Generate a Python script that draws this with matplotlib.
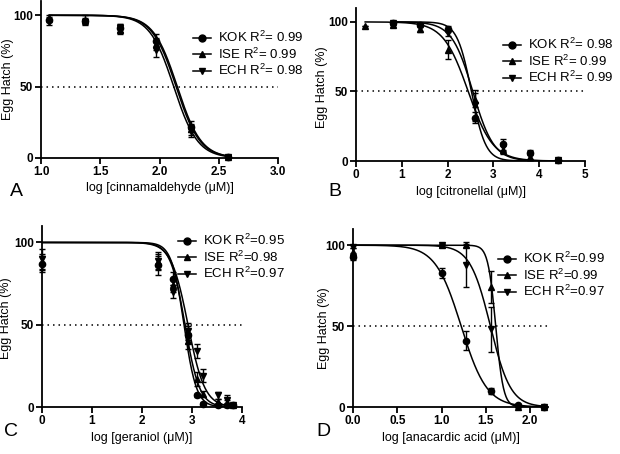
import numpy as np
import matplotlib
matplotlib.use("Agg")
import matplotlib.pyplot as plt
from matplotlib.lines import Line2D

plt.rcParams['font.family'] = ['Liberation Sans', 'DejaVu Sans']
plt.rcParams['mathtext.fontset'] = 'custom'
plt.rcParams['mathtext.rm'] = 'Liberation Sans'
plt.rcParams['mathtext.it'] = 'Liberation Sans:italic'
plt.rcParams['mathtext.bf'] = 'Liberation Sans:bold'

nan = np.nan
series_names = ["KOK", "ISE", "ECH"]
markers = ["o", "^", "v"]

# ---- Panel A: cinnamaldehyde ----
A_x = [1.07, 1.37, 1.67, 1.97, 2.27, 2.58]
A_kok = [97, 96, 91, 82, 22, 1]
A_ise = [98, 97, 90, 80, 20, 1]
A_ech = [95, 95, 91, 76, 19, 1]
A_kok_err = [2, 2, 3, 5, 4, 1]
A_ise_err = [2, 3, 3, 4, 4, 1]
A_ech_err = [2, 2, 3, 5, 4, 1]
A_logic50 = [2.14, 2.15, 2.12]
A_hill = [4.3, 4.3, 4.3]
A_r2 = ["0.99", "0.99", "0.98"]

# ---- Panel B: citronellal ----
B_x = [0.2, 0.8, 1.4, 2.0, 2.6, 3.2, 3.8, 4.4]
B_kok = [nan, 99, 98, 95, 31, 12, 6, 1]
B_ise = [97, 98, 95, 80, 44, 8, 3, 1]
B_ech = [nan, 99, 97, 92, 40, 10, 4, 1]
B_kok_err = [0, 1, 1, 2, 4, 4, 2, 1]
B_ise_err = [0, 2, 2, 7, 5, 3, 2, 1]
B_ech_err = [0, 1, 1, 2, 11, 3, 3, 1]
B_logic50 = [2.52, 2.45, 2.55]
B_hill = [2.8, 1.6, 1.9]
B_r2 = ["0.98", "0.99", "0.99"]

# ---- Panel C: geraniol ----
C_x = [0.0, 2.31, 2.61, 2.91, 3.09, 3.21, 3.51, 3.69, 3.81]
C_kok = [87, 86, 78, 44, 7, 2, 1, 1, 1]
C_ise = [88, 88, 74, 40, 17, 8, 3, 2, 1]
C_ech = [90, 89, 70, 46, 34, 19, 7, 4, 1]
C_kok_err = [5, 6, 4, 5, 1, 1, 1, 1, 1]
C_ise_err = [5, 5, 4, 5, 4, 2, 2, 2, 1]
C_ech_err = [6, 5, 4, 5, 4, 4, 2, 3, 1]
C_logic50 = [2.84, 2.86, 2.92]
C_hill = [3.5, 3.0, 2.6]
C_r2 = ["0.95", "0.98", "0.97"]

# ---- Panel D: anacardic acid ----
D_x = [0.0, 1.0, 1.27, 1.56, 1.86, 2.16]
D_kok = [93, 83, 41, 10, 1, 0]
D_ise = [96, 100, 100, 74, 0, 0]
D_ech = [99, 100, 88, 48, 0, 0]
D_kok_err = [2, 3, 6, 2, 1, 0]
D_ise_err = [2, 1, 1, 10, 0, 0]
D_ech_err = [1, 1, 14, 14, 0, 0]
D_logic50 = [1.22, 1.61, 1.55]
D_hill = [3.0, 10.0, 3.8]
D_r2 = ["0.99", "0.99", "0.97"]

W, H = 620, 454
fig = plt.figure(figsize=(W / 100, H / 100), dpi=100)


def px_axes(left, right, bottom, top):
    return fig.add_axes([left / W, 1 - bottom / H, (right - left) / W, (bottom - top) / H])


def hill(x, c, h):
    return 100.0 / (1.0 + 10 ** (h * (x - c)))


panels = [
    dict(box=(41, 278, 158, 1), xlim=(1.0, 3.0), xticks=[1.0, 1.5, 2.0, 2.5, 3.0], fmt="{:.1f}",
         x=A_x, ys=[A_kok, A_ise, A_ech], errs=[A_kok_err, A_ise_err, A_ech_err],
         c=A_logic50, h=A_hill, r2=A_r2, eq="= ", xlabel="log [cinnamaldehyde (\u03bcM)]",
         letter="A", legpos=(193, 30), letterpos=(10, 192), ylabpos=(8, 79)),
    dict(box=(356, 585, 161, 8), xlim=(0, 5), xticks=[0, 1, 2, 3, 4, 5], fmt="{:d}",
         x=B_x, ys=[B_kok, B_ise, B_ech], errs=[B_kok_err, B_ise_err, B_ech_err],
         c=B_logic50, h=B_hill, r2=B_r2, eq="= ", xlabel="log [citronellal (\u03bcM)]",
         letter="B", legpos=(503, 37), letterpos=(328, 192), ylabpos=(322, 87)),
    dict(box=(42, 242, 407, 226), xlim=(0, 4), xticks=[0, 1, 2, 3, 4], fmt="{:d}",
         x=C_x, ys=[C_kok, C_ise, C_ech], errs=[C_kok_err, C_ise_err, C_ech_err],
         c=C_logic50, h=C_hill, r2=C_r2, eq="=", xlabel="log [geraniol (\u03bcM)]",
         letter="C", legpos=(178, 233), letterpos=(4, 432), ylabpos=(6, 318)),
    dict(box=(353, 548, 407, 229), xlim=(0, 2.2), xticks=[0.0, 0.5, 1.0, 1.5, 2.0], fmt="{:.1f}",
         x=D_x, ys=[D_kok, D_ise, D_ech], errs=[D_kok_err, D_ise_err, D_ech_err],
         c=D_logic50, h=D_hill, r2=D_r2, eq="=", xlabel="log [anacardic acid (\u03bcM)]",
         letter="D", legpos=(498, 251), letterpos=(316, 432), ylabpos=(324, 328)),
]

for p in panels:
    l, r, b, t = p["box"]
    ax = px_axes(l, r, b, t)
    ax.set_xlim(*p["xlim"])
    ax.set_ylim(0, 110)
    for s in ["top", "right"]:
        ax.spines[s].set_visible(False)
    for s in ["left", "bottom"]:
        ax.spines[s].set_linewidth(1.3)
    ax.tick_params(direction="out", length=4, width=1.3, labelsize=8.5, pad=2)
    ax.set_yticks([0, 50, 100])
    ax.set_xticks(p["xticks"])
    ax.set_xticklabels([p["fmt"].format(v) for v in p["xticks"]])
    for lab in ax.get_xticklabels() + ax.get_yticklabels():
        lab.set_fontweight("bold")
    ax.axhline(50, color="black", lw=1.1, linestyle=(0, (1, 2.6)))
    x = np.array(p["x"], dtype=float)
    handles = []
    for i in range(3):
        y = np.array(p["ys"][i], dtype=float)
        e = np.array(p["errs"][i], dtype=float)
        m = ~np.isnan(y)
        ax.errorbar(x[m], y[m], yerr=e[m], fmt=markers[i], color="black", ms=4.5,
                    capsize=2.5, elinewidth=1.0, capthick=1.0, clip_on=False, zorder=3)
        xs = np.linspace(x[m].min(), x[m].max(), 300)
        ax.plot(xs, hill(xs, p["c"][i], p["h"][i]), color="black", lw=1.1, zorder=2)
        handles.append(Line2D([], [], color="black", lw=1.1, marker=markers[i], ms=5))
    labels = [f"{n} R$^2${p['eq']}{r2}" for n, r2 in zip(series_names, p["r2"])]
    lx, ly = p["legpos"]
    fig.legend(handles, labels, loc="upper left", bbox_to_anchor=(lx / W, 1 - ly / H),
               frameon=False, fontsize=9.5, handlelength=1.35, handletextpad=0.55,
               labelspacing=0.1, borderpad=0, borderaxespad=0, numpoints=1)
    ax.set_xlabel(p["xlabel"], fontsize=9, labelpad=3)
    yx, yy = p["ylabpos"]
    ax.set_ylabel("Egg Hatch (%)", fontsize=9, va="center")
    ax.yaxis.set_label_coords(yx / W, 1 - yy / H, transform=fig.transFigure)
    lxp, lyp = p["letterpos"]
    fig.text(lxp / W, 1 - lyp / H, p["letter"], fontsize=14, va="center", ha="left")

fig.savefig("out.png", dpi=100)
